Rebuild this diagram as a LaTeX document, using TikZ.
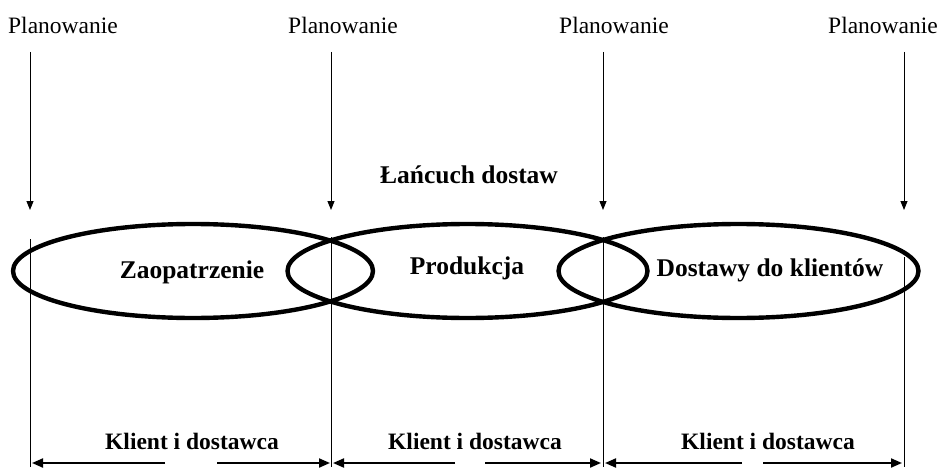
\documentclass[tikz,border=0pt]{standalone}
\usepackage{fontspec}
\setmainfont{Liberation Serif}
\usetikzlibrary{arrows.meta,shapes.geometric}

\tikzset{
  plan/.style={font=\fontsize{23.5}{26}\selectfont, inner sep=0pt, anchor=center},
  stage/.style={font=\fontsize{25.5}{28}\selectfont\bfseries, inner sep=0pt, anchor=center},
  pair/.style={font=\fontsize{23.5}{26}\selectfont\bfseries, inner sep=0pt, anchor=center},
  ring/.style={draw, line width=4.4pt, shape=ellipse, minimum width=360pt, minimum height=94pt, inner sep=0pt},
  planarrow/.style={line width=1pt, -{Triangle[length=9pt,width=7pt]}},
  divider/.style={line width=1pt},
  flow/.style={line width=2pt, -{Triangle[length=11pt,width=9pt]}}
}

\begin{document}
\begin{tikzpicture}[x=1pt,y=-1pt]
  \useasboundingbox (0,0) rectangle (939,468);

  % planning labels and their downward arrows
  \node[plan] (p1) at (63,25) {Planowanie};
  \node[plan] (p2) at (343,25) {Planowanie};
  \node[plan] (p3) at (614,25) {Planowanie};
  \node[plan] (p4) at (883,25) {Planowanie};

  \coordinate (s1) at (30,52);  \coordinate (h1) at (30,210);
  \coordinate (s2) at (331,52); \coordinate (h2) at (331,210);
  \coordinate (s3) at (603,52); \coordinate (h3) at (603,210);
  \coordinate (s4) at (904,52); \coordinate (h4) at (904,210);
  \draw[planarrow] (s1) -- (h1);
  \draw[planarrow] (s2) -- (h2);
  \draw[planarrow] (s3) -- (h3);
  \draw[planarrow] (s4) -- (h4);

  \node[stage] (title) at (469,175) {Łańcuch dostaw};

  % three overlapping links of the chain
  \node[ring] (e1) at (193,271) {};
  \node[ring] (e2) at (467.5,271) {};
  \node[ring] (e3) at (738.5,271) {};

  \node[stage] (t1) at (192,272) {Zaopatrzenie};
  \node[stage] (t2) at (467,268) {Produkcja};
  \node[stage] (t3) at (770,270) {Dostawy do klientów};

  % vertical dividers down to the bottom
  \coordinate (d1a) at (30,239);  \coordinate (d1b) at (30,467);
  \coordinate (d2a) at (331,237); \coordinate (d2b) at (331,467);
  \coordinate (d3a) at (603,237); \coordinate (d3b) at (603,467);
  \coordinate (d4a) at (904,257); \coordinate (d4b) at (904,467);
  \draw[divider] (d1a) -- (d1b);
  \draw[divider] (d2a) -- (d2b);
  \draw[divider] (d3a) -- (d3b);
  \draw[divider] (d4a) -- (d4b);

  % customer / supplier relations
  \node[pair] (k1) at (192,441) {Klient i dostawca};
  \node[pair] (k2) at (475,441) {Klient i dostawca};
  \node[pair] (k3) at (768,441) {Klient i dostawca};

  \coordinate (a1l) at (32,463);  \coordinate (a1m) at (165,463);
  \coordinate (a1n) at (217,463); \coordinate (a1r) at (330,463);
  \coordinate (a2l) at (333,463); \coordinate (a2m) at (455,463);
  \coordinate (a2n) at (485,463); \coordinate (a2r) at (601,463);
  \coordinate (a3l) at (605,463); \coordinate (a3m) at (742,463);
  \coordinate (a3n) at (763,463); \coordinate (a3r) at (902,463);
  \draw[flow] (a1m) -- (a1l);
  \draw[flow] (a1n) -- (a1r);
  \draw[flow] (a2m) -- (a2l);
  \draw[flow] (a2n) -- (a2r);
  \draw[flow] (a3m) -- (a3l);
  \draw[flow] (a3n) -- (a3r);
\end{tikzpicture}
\end{document}
